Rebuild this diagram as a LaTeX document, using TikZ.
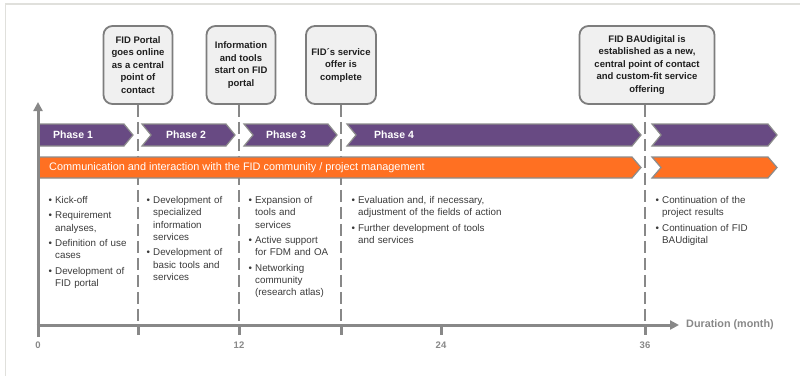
\documentclass[tikz,border=0pt]{standalone}
\usepackage{fontspec}
\setmainfont{Liberation Sans}
\usetikzlibrary{arrows.meta}
\definecolor{phasepurple}{RGB}{104,74,131}
\definecolor{commorange}{RGB}{255,112,34}
\definecolor{axisgray}{RGB}{136,136,136}
\definecolor{boxfill}{RGB}{240,240,240}
\definecolor{boxline}{RGB}{125,125,125}
\definecolor{framegray}{RGB}{224,224,220}
\definecolor{txtgray}{RGB}{58,58,58}
\definecolor{bargray}{RGB}{140,140,140}
\newcommand{\bitem}[1]{\par\hangindent=6.5pt\hangafter=1\noindent\makebox[6.5pt][l]{•}#1}
\newcommand{\chevbar}[6]{%
  \draw[barline, fill=#5] (#1,#3) -- (#2-9,#3) -- (#2,{(#3+#4)/2}) -- (#2-9,#4) -- (#1,#4) -- (#1+#6,{(#3+#4)/2}) -- cycle;}
\tikzset{
  barline/.style={draw=bargray, line width=1.2pt, line join=miter},
  axisline/.style={draw=axisgray, line width=3pt},
  dashline/.style={draw=axisgray, line width=2pt, dash pattern=on 12pt off 5pt},
  milestone/.style={draw=boxline, line width=1.8pt, fill=boxfill, rounded corners=9pt,
    align=center, font=\bfseries\fontsize{9.5}{12.5}\selectfont, text=black!88,
    inner sep=0pt, minimum height=78pt},
  phaselabel/.style={anchor=west, inner sep=0pt, text=white, font=\bfseries\fontsize{10.5}{12}\selectfont},
  listtext/.style={anchor=north west, inner sep=0pt, text width=260pt, text=txtgray,
    font=\fontsize{9.8}{12.3}\selectfont},
  ticklabel/.style={inner sep=0pt, text=axisgray, font=\bfseries\fontsize{9.5}{11}\selectfont}
}
\begin{document}
\begin{tikzpicture}[x=1pt,y=-1pt]
\useasboundingbox (0,0) rectangle (800,376);
% frame
\draw[framegray, line width=2pt] (5,3.5) -- (800,3.5);
\draw[framegray, line width=1.5pt] (5.5,3) -- (5.5,376);
% milestone boxes
\node[milestone, minimum width=69pt] (m1) at (138,65) {FID Portal\\goes online\\as a central\\point of\\contact};
\node[milestone, minimum width=69pt] (m2) at (241,65) {Information\\and tools\\start on FID\\portal};
\node[milestone, minimum width=70pt] (m3) at (341,65) {FID´s service\\offer is\\complete};
\node[milestone, minimum width=135pt] (m4) at (647,65) {FID BAUdigital is\\established as a new,\\central point of contact\\and custom-fit service\\offering};
% axis coordinates
\coordinate (a6) at (138,325);
\coordinate (a12) at (239,325);
\coordinate (a18) at (341,325);
\coordinate (a24) at (441,325);
\coordinate (a36) at (645,325);
% dashed milestone lines
\draw[dashline] (m1.south) -- (a6);
\draw[dashline] (m2.south -| a12) -- (a12);
\draw[dashline] (m3.south) -- (a18);
\draw[dashline] (m4.south -| a36) -- (a36);
% phase bars
\chevbar{39}{133}{124}{146}{phasepurple}{0}
\chevbar{142}{235}{124}{146}{phasepurple}{9}
\chevbar{244}{337}{124}{146}{phasepurple}{9}
\chevbar{347}{641}{124}{146}{phasepurple}{9}
\chevbar{652}{777}{124}{146}{phasepurple}{9}
\node[phaselabel] (p1) at (53,135) {Phase 1};
\node[phaselabel] (p2) at (166,135) {Phase 2};
\node[phaselabel] (p3) at (266,135) {Phase 3};
\node[phaselabel] (p4) at (374,135) {Phase 4};
% communication bars
\chevbar{39}{641}{157}{178}{commorange}{0}
\chevbar{652}{777}{157}{178}{commorange}{9}
\node[anchor=west, inner sep=0pt, text=white, font=\fontsize{10.9}{12}\selectfont] (comm) at (49,167.5)
  {Communication and interaction with the FID community / project management};
% axes
\coordinate (o) at (38,325);
\coordinate (ybot) at (38,337);
\coordinate (ytop) at (38,102);
\coordinate (xend) at (679,325);
\draw[axisline, -{Triangle[length=9pt,width=9pt]}] (ybot) -- (ytop);
\draw[axisline, -{Triangle[length=9pt,width=9pt]}] (36.5,325) -- (xend);
\foreach \t in {a6,a12,a18,a24,a36} {\draw[axisline] (\t) -- ++(0,10);}
\node[ticklabel] (l0) at (38,345) {0};
\node[ticklabel] (l12) at (239,345) {12};
\node[ticklabel] (l24) at (441,345) {24};
\node[ticklabel] (l36) at (645,345) {36};
\node[anchor=west, inner sep=0pt, text=axisgray, font=\bfseries\fontsize{10.8}{12}\selectfont] (dur) at (686,325) {Duration (month)};
% lists
\node[listtext] (c1) at (48.5,188) {\setlength{\parskip}{3pt}%
\bitem{Kick-off}
\bitem{Requirement\newline analyses,}
\bitem{Definition of use\newline cases}
\bitem{Development of\newline FID portal}\par};
\node[listtext] (c2) at (146.5,188) {\setlength{\parskip}{3pt}%
\bitem{Development of\newline specialized\newline information\newline services}
\bitem{Development of\newline basic tools and\newline services}\par};
\node[listtext] (c3) at (248.5,188) {\setlength{\parskip}{3pt}%
\bitem{Expansion of\newline tools and\newline services}
\bitem{Active support\newline for FDM and OA}
\bitem{Networking\newline community\newline (research atlas)}\par};
\node[listtext] (c4) at (351.5,188) {\setlength{\parskip}{3pt}%
\bitem{Evaluation and, if necessary,\newline adjustment of the fields of action}
\bitem{Further development of tools\newline and services}\par};
\node[listtext] (c5) at (655.5,188) {\setlength{\parskip}{3pt}%
\bitem{Continuation of the\newline project results}
\bitem{Continuation of FID\newline BAUdigital}\par};
\end{tikzpicture}
\end{document}
